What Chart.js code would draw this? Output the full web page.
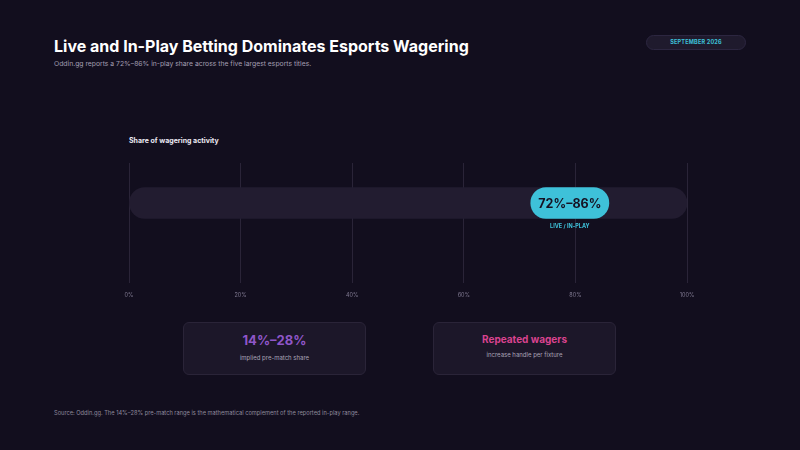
<!DOCTYPE html>
<html>
<head>
<meta charset="utf-8">
<script src="https://cdn.jsdelivr.net/npm/chart.js@4.4.1/dist/chart.umd.min.js"></script>
<style>
  html,body{margin:0;padding:0;background:#120e1e;}
  body{width:800px;height:450px;position:relative;overflow:hidden;font-family:Inter,"Noto Sans",sans-serif;}
  #c{position:absolute;left:0;top:0;}
  .t{position:absolute;white-space:nowrap;}
  #title{left:54px;top:36px;font-size:16px;font-weight:700;color:#ffffff;}
  #sub{left:54px;top:59px;font-size:6.8px;color:#a39eb2;}
  #badge{position:absolute;left:646px;top:35px;width:100px;height:15px;border-radius:8px;background:#1f1a2d;border:1px solid #2c2640;box-sizing:border-box;color:#3ec1d9;font-size:5.5px;font-weight:700;text-align:center;line-height:13px;letter-spacing:0.2px;}
  #lab{left:129px;top:136px;font-size:7px;font-weight:700;color:#ece9f3;}
  .card{position:absolute;top:322px;width:183px;height:53px;border-radius:6px;background:#1c1729;border:1px solid #2a2438;box-sizing:border-box;text-align:center;}
  #c1{left:183px;}
  #c2{left:433px;}
  .big1{position:absolute;left:0;right:0;top:9px;font-size:13px;font-weight:700;color:#8f56c8;}
  .big2{position:absolute;left:0;right:0;top:10px;font-size:10px;font-weight:700;color:#d9438f;}
  .small{position:absolute;left:0;right:0;font-size:6px;color:#a9a3b6;}
  #src{left:54px;top:409px;font-size:5.7px;color:#8e899c;}
</style>
</head>
<body>
<div class="t" id="title">Live and In-Play Betting Dominates Esports Wagering</div>
<div class="t" id="sub">Oddin.gg reports a 72%–86% in-play share across the five largest esports titles.</div>
<div id="badge">SEPTEMBER 2026</div>
<div class="t" id="lab">Share of wagering activity</div>
<div class="card" id="c1"><div class="big1">14%–28%</div><div class="small" style="top:31px">implied pre-match share</div></div>
<div class="card" id="c2"><div class="big2">Repeated wagers</div><div class="small" style="top:28px">increase handle per fixture</div></div>
<div class="t" id="src">Source: Oddin.gg. The 14%–28% pre-match range is the mathematical complement of the reported in-play range.</div>
<canvas id="c" width="800" height="450"></canvas>
<script>
const categories = ['Live / In-play'];
const trackRange = [0, 100];
const inPlayRange = [72, 86];
const pillLabel = '72%–86%';
const pillCaption = 'LIVE / IN-PLAY';
const tickValues = [0, 20, 40, 60, 80, 100];

const pillLabelPlugin = {
  id: 'pillLabel',
  afterDatasetsDraw(chart) {
    const meta = chart.getDatasetMeta(1);
    const el = meta.data[0];
    if (!el) return;
    const ctx = chart.ctx;
    const cx = (el.x + el.base) / 2;
    ctx.save();
    ctx.textAlign = 'center';
    ctx.textBaseline = 'middle';
    ctx.fillStyle = '#161122';
    ctx.font = 'bold 12.5px Inter';
    ctx.fillText(pillLabel, cx, el.y + 1);
    ctx.fillStyle = '#3ec1d9';
    ctx.font = 'bold 5.5px Inter';
    ctx.fillText(pillCaption, cx, el.y + el.height / 2 + 8);
    ctx.restore();
  }
};

new Chart(document.getElementById('c'), {
  type: 'bar',
  data: {
    labels: categories,
    datasets: [
      {
        data: [{ x: trackRange, y: 1 }],
        backgroundColor: '#221c30',
        borderRadius: 16,
        borderSkipped: false,
        barThickness: 31,
        grouped: false,
        order: 2
      },
      {
        data: [{ x: inPlayRange, y: 1 }],
        backgroundColor: '#3ec1d9',
        borderRadius: 16,
        borderSkipped: false,
        barThickness: 31,
        grouped: false,
        order: 1
      }
    ]
  },
  options: {
    indexAxis: 'y',
    responsive: false,
    animation: false,
    layout: { padding: { left: 129, right: 113, top: 163, bottom: 145 } },
    plugins: { legend: { display: false }, tooltip: { enabled: false } },
    scales: {
      y: { type: 'linear', min: 0, max: 3, reverse: true, offset: false, display: false },
      x: {
        type: 'linear', min: 0, max: 100,
        afterBuildTicks(scale) { scale.ticks = tickValues.map(v => ({ value: v })); },
        afterFit(scale) { scale.height = 22; },
        grid: { color: '#2a2438', lineWidth: 1, drawTicks: false },
        border: { display: false },
        ticks: {
          padding: 9,
          color: '#807a92',
          font: { family: 'Inter', size: 5.5 },
          maxRotation: 0,
          callback: v => v + '%'
        }
      }
    }
  },
  plugins: [pillLabelPlugin]
});
</script>
</body>
</html>
